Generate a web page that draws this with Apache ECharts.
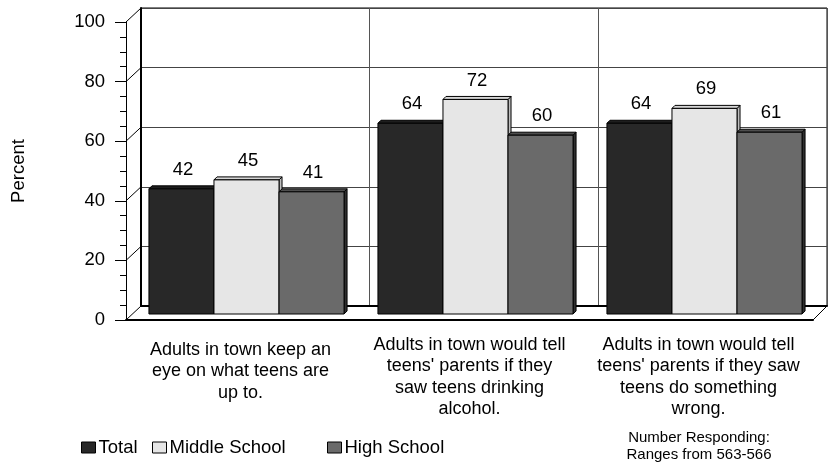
<!DOCTYPE html>
<html>
<head>
<meta charset="utf-8">
<script src="https://cdn.jsdelivr.net/npm/echarts@6/dist/echarts.min.js"></script>
<style>
  html, body { margin: 0; padding: 0; background: #fff; }
  #chart { width: 829px; height: 465px; }
</style>
</head>
<body>
<div id="chart"></div>
<script>
// ---- data ----
const categories = [
  'Adults in town keep an\neye on what teens are\nup to.',
  'Adults in town would tell\nteens\' parents if they\nsaw teens drinking\nalcohol.',
  'Adults in town would tell\nteens\' parents if they saw\nteens do something\nwrong.'
];
const seriesNames = ['Total', 'Middle School', 'High School'];
const totalValues = [42, 64, 64];
const middleValues = [45, 72, 69];
const highValues = [41, 60, 61];
const yMin = 0, yMax = 100, yStep = 20;
const noteLines = ['Number Responding:', 'Ranges from 563-566'];

// ---- layout & style ----
const FONT = '"Liberation Sans", Arial, sans-serif';
const front = { left: 126, top: 22, width: 687, height: 298 };   // front plane (axes)
const DEPTH_X = 15, DEPTH_Y = 14;                                  // depth of the floor / wall
const BAR_SHIFT = 6;                                               // bars sit partway back
const FACE = 3;                                                    // bevel depth of each bar
const GAP = 0.148;                                                 // share of a category left empty
const palette = [
  { front: '#282828', top: '#1e1e1e', side: '#121212' },
  { front: '#e6e6e6', top: '#d6d6d6', side: '#bdbdbd' },
  { front: '#6a6a6a', top: '#4e4e4e', side: '#2e2e2e' }
];
const valueLists = [totalValues, middleValues, highValues];

function barRenderer(s) {
  return function (params, api) {
    const cat = api.value(0);
    const val = api.value(1);
    const topPt = api.coord([cat, val]);
    const basePt = api.coord([cat, 0]);
    const band = api.size([1, 0])[0];
    const bw = band * (1 - GAP) / 3;
    const x0 = topPt[0] - 1.5 * bw + s * bw;
    const x1 = x0 + bw;
    const y0 = topPt[1];
    const yb = basePt[1];
    const c = palette[s];
    const d = FACE;
    return {
      type: 'group',
      children: [
        { type: 'polygon', shape: { points: [[x1, y0], [x1 + d, y0 - d], [x1 + d, yb - d], [x1, yb]] },
          style: { fill: c.side, stroke: '#000', lineWidth: 1 } },
        { type: 'polygon', shape: { points: [[x0, y0], [x0 + d, y0 - d], [x1 + d, y0 - d], [x1, y0]] },
          style: { fill: c.top, stroke: '#000', lineWidth: 1 } },
        { type: 'rect', shape: { x: x0, y: y0, width: bw, height: yb - y0 },
          style: { fill: c.front, stroke: '#000', lineWidth: 1 } },
        { type: 'text', x: x0 + bw / 2 + d / 2, y: y0 - 19,
          style: { text: String(val), align: 'center', verticalAlign: 'middle',
                   fontSize: 18.5, fontFamily: FONT, fill: '#000' } }
      ]
    };
  };
}

const chart = echarts.init(document.getElementById('chart'), null, { renderer: 'canvas' });

const legendLeft = [76, 147, 322];

const option = {
  animation: false,
  backgroundColor: '#fff',
  grid: [
    { left: front.left, top: front.top, width: front.width, height: front.height },
    { left: front.left + DEPTH_X, top: front.top - DEPTH_Y, width: front.width - 1, height: front.height,
      show: true, borderColor: '#000', borderWidth: 1, backgroundColor: 'transparent' },
    { left: front.left + BAR_SHIFT, top: front.top - BAR_SHIFT, width: front.width, height: front.height }
  ],
  xAxis: [
    { type: 'category', gridIndex: 0,
      data: categories.map((c, i) => i === 0 ? { value: c, textStyle: { padding: [5, 0, 0, 0] } } : c),
      axisLine: { lineStyle: { color: '#000', width: 2 } },
      axisTick: { alignWithLabel: true, length: 7, lineStyle: { color: '#000' } },
      axisLabel: { interval: 0, margin: 14, lineHeight: 21.5, fontSize: 18, fontFamily: FONT, color: '#000' },
      splitLine: { show: false } },
    { type: 'category', gridIndex: 1, data: categories,
      axisLine: { lineStyle: { color: '#000', width: 2 } },
      axisTick: { show: false }, axisLabel: { show: false },
      splitLine: { show: true, interval: 0, lineStyle: { color: '#555', width: 1 } } },
    { type: 'category', gridIndex: 2, data: categories, show: false }
  ],
  yAxis: [
    { type: 'value', gridIndex: 0, min: yMin, max: yMax, interval: yStep,
      name: 'Percent', nameLocation: 'middle', nameRotate: 90, nameGap: 98,
      nameTextStyle: { fontSize: 18.5, fontFamily: FONT, color: '#000' },
      axisLine: { show: true, lineStyle: { color: '#000', width: 1 } },
      axisTick: { show: true, length: 11, lineStyle: { color: '#000' } },
      minorTick: { show: true, splitNumber: 4, length: 6, lineStyle: { color: '#000' } },
      axisLabel: { margin: 21, fontSize: 18.5, fontFamily: FONT, color: '#000' },
      splitLine: { show: false } },
    { type: 'value', gridIndex: 1, min: yMin, max: yMax, interval: yStep,
      axisLine: { show: true, lineStyle: { color: '#000', width: 2 } },
      axisTick: { show: false }, axisLabel: { show: false },
      splitLine: { show: true, lineStyle: { color: '#444', width: 1 } } },
    { type: 'value', gridIndex: 2, min: yMin, max: yMax, interval: yStep, show: false }
  ],
  legend: seriesNames.map((n, i) => ({
    data: [{ name: n, itemStyle: { color: palette[i].front, borderColor: '#000', borderWidth: 1 } }],
    left: legendLeft[i], top: 433, icon: 'rect', itemWidth: 14, itemHeight: 11,
    selectedMode: false,
    textStyle: { fontSize: 18.5, fontFamily: FONT, color: '#000', padding: [0, 0, 0, -2] }
  })),
  series: seriesNames.map((n, i) => ({
    name: n, type: 'custom', xAxisIndex: 2, yAxisIndex: 2,
    itemStyle: { color: palette[i].front },
    encode: { x: 0, y: 1 },
    data: valueLists[i].map((v, k) => [k, v]),
    renderItem: barRenderer(i)
  }))
};

chart.setOption(option);

// depth connectors between the front axis and the back wall
const extras = [];
for (let v = yMin; v <= yMax; v += yStep) {
  const yF = chart.convertToPixel({ yAxisIndex: 0 }, v);
  const yB = chart.convertToPixel({ yAxisIndex: 1 }, v);
  extras.push({ type: 'line', silent: true,
    shape: { x1: front.left, y1: yF, x2: front.left + DEPTH_X, y2: yB },
    style: { stroke: '#000', lineWidth: 1 } });
}
const yF0 = chart.convertToPixel({ yAxisIndex: 0 }, yMin);
const yB0 = chart.convertToPixel({ yAxisIndex: 1 }, yMin);
extras.push({ type: 'line', silent: true,
  shape: { x1: front.left + front.width, y1: yF0, x2: front.left + front.width + DEPTH_X - 1, y2: yB0 },
  style: { stroke: '#000', lineWidth: 1 } });

// response-count note under the last category
extras.push({ type: 'text', x: 699, y: 446, silent: true,
  style: { text: noteLines.join('\n'), align: 'center', verticalAlign: 'middle',
           fontSize: 15, lineHeight: 17, fontFamily: FONT, fill: '#000' } });

chart.setOption({ graphic: extras });
</script>
</body>
</html>
